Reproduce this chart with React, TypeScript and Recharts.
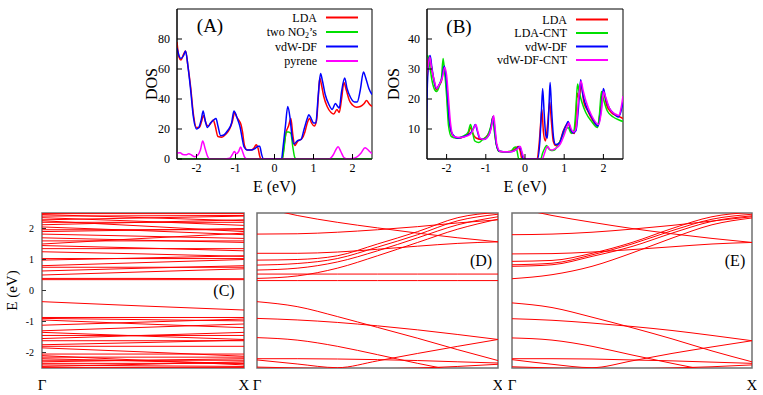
import { LineChart, Line, XAxis, YAxis, Legend, ReferenceArea } from 'recharts';
import type { ReactNode } from 'react';

type Pt = [number, number];

// (A) DOS, pyrene + two NO2 on graphene: [E (eV), DOS]
const ldaA: Pt[] = [
  [-2.5, 78], [-2.45, 68], [-2.4, 66], [-2.33, 70], [-2.28, 72], [-2.22, 62], [-2.15, 48], [-2.08, 30],
  [-2.0, 21], [-1.93, 21], [-1.87, 25], [-1.82, 29], [-1.76, 24], [-1.7, 22], [-1.63, 24], [-1.57, 26],
  [-1.52, 22], [-1.45, 15], [-1.35, 14.5], [-1.25, 16.5], [-1.15, 20], [-1.08, 25], [-1.02, 31], [-0.97, 28],
  [-0.92, 26], [-0.86, 23], [-0.82, 18], [-0.77, 9], [-0.7, 6], [-0.6, 6], [-0.52, 7.5], [-0.47, 9.5],
  [-0.42, 7], [-0.38, 2], [-0.35, 0], [0.2, 0], [0.24, 8], [0.3, 18], [0.36, 22], [0.42, 27], [0.47, 16],
  [0.52, 9], [0.6, 12], [0.7, 13.5], [0.78, 18], [0.84, 24], [0.9, 27], [0.95, 24], [1.02, 22], [1.08, 26],
  [1.12, 40], [1.16, 54], [1.2, 50], [1.26, 42], [1.35, 35], [1.45, 31], [1.52, 30], [1.6, 33], [1.66, 31],
  [1.72, 40], [1.78, 51], [1.84, 46], [1.92, 39], [2.0, 36], [2.1, 34.5], [2.2, 35], [2.3, 37], [2.36, 39],
  [2.42, 37], [2.5, 35],
];
const no2A: Pt[] = [
  [-2.5, 0], [0.2, 0], [0.24, 6], [0.3, 18], [0.36, 18], [0.42, 17], [0.47, 8], [0.52, 1], [0.56, 0], [2.5, 0],
];
const vdwA: Pt[] = [
  [-2.5, 74], [-2.45, 69], [-2.4, 67], [-2.33, 69], [-2.28, 72], [-2.22, 62], [-2.15, 46], [-2.08, 28],
  [-2.0, 20], [-1.94, 21], [-1.88, 26], [-1.83, 32], [-1.78, 26], [-1.72, 21], [-1.64, 24], [-1.56, 26],
  [-1.5, 27], [-1.45, 22], [-1.38, 15.5], [-1.3, 16], [-1.2, 19], [-1.1, 24], [-1.04, 32], [-0.98, 29],
  [-0.94, 26], [-0.88, 21], [-0.83, 14], [-0.78, 8], [-0.7, 6], [-0.6, 6], [-0.5, 7], [-0.42, 8.5],
  [-0.38, 8.5], [-0.33, 3], [-0.28, 0], [0.18, 0], [0.22, 8], [0.28, 22], [0.34, 35], [0.4, 27], [0.45, 15],
  [0.5, 10], [0.58, 12], [0.68, 13], [0.76, 20], [0.84, 27], [0.88, 29.5], [0.94, 27], [1.0, 24], [1.06, 24],
  [1.12, 42], [1.18, 57], [1.23, 52], [1.3, 43], [1.4, 36], [1.48, 33], [1.56, 37], [1.62, 35], [1.66, 34],
  [1.72, 45], [1.8, 54], [1.86, 47], [1.95, 41], [2.05, 38], [2.12, 38], [2.2, 46], [2.28, 58], [2.34, 54],
  [2.42, 47], [2.5, 43],
];
const pyreneA: Pt[] = [
  [-2.5, 4], [-2.42, 4.2], [-2.35, 3], [-2.27, 2.8], [-2.2, 3.5], [-2.12, 2.5], [-2.05, 1.5], [-1.97, 2.5],
  [-1.9, 6], [-1.84, 12], [-1.78, 7], [-1.72, 2], [-1.66, 0], [-1.3, 0], [-1.15, 0.5], [-1.08, 3], [-1.03, 5],
  [-0.98, 3.5], [-0.92, 5], [-0.87, 8], [-0.82, 5], [-0.76, 1], [-0.7, 0], [1.4, 0], [1.5, 2.5], [1.58, 6.5],
  [1.63, 8.2], [1.7, 5], [1.78, 1], [1.88, 0], [2.0, 0.3], [2.12, 1.5], [2.22, 4], [2.32, 7.5], [2.38, 6.5],
  [2.44, 5], [2.5, 3.5],
];

// (B) DOS with / without the nanotube
const ldaB: Pt[] = [
  [-2.5, 26], [-2.46, 33], [-2.43, 34], [-2.38, 30], [-2.32, 26], [-2.26, 23], [-2.2, 24.5], [-2.13, 26],
  [-2.08, 30.5], [-2.04, 29], [-2.0, 24], [-1.96, 15], [-1.9, 10], [-1.82, 7.5], [-1.7, 7], [-1.55, 7.5],
  [-1.45, 8.5], [-1.38, 10.5], [-1.33, 8.5], [-1.25, 7], [-1.1, 6.5], [-0.95, 8], [-0.87, 10.5], [-0.82, 14],
  [-0.78, 10], [-0.74, 5.5], [-0.66, 2.6], [-0.5, 2.4], [-0.35, 2.6], [-0.25, 3.5], [-0.17, 4.2], [-0.12, 2.5],
  [-0.08, 0], [0.3, 0], [0.36, 5], [0.4, 12], [0.43, 16.5], [0.47, 9], [0.52, 6], [0.58, 12], [0.63, 19],
  [0.67, 13], [0.72, 6], [0.78, 4.5], [0.88, 5.5], [0.98, 9.5], [1.06, 11.5], [1.1, 12], [1.18, 9], [1.26, 8.5],
  [1.3, 14], [1.33, 22], [1.38, 20], [1.43, 25], [1.5, 19], [1.6, 16], [1.72, 13], [1.85, 11], [1.91, 15],
  [1.96, 21], [2.0, 22.5], [2.08, 18], [2.2, 15.5], [2.32, 14.5], [2.42, 14], [2.5, 13.5],
];
const ldaCntB: Pt[] = [
  [-2.52, 34], [-2.48, 34.5], [-2.43, 31], [-2.37, 26], [-2.3, 23], [-2.25, 22.5], [-2.18, 24.5], [-2.13, 27],
  [-2.09, 33.5], [-2.05, 29], [-2.0, 21], [-1.95, 11], [-1.88, 7.5], [-1.75, 7], [-1.55, 7.8], [-1.45, 9],
  [-1.39, 11.5], [-1.34, 9], [-1.28, 6], [-1.18, 5.5], [-1.08, 6.5], [-0.95, 8], [-0.87, 11], [-0.82, 14],
  [-0.78, 9], [-0.74, 5.5], [-0.66, 2.5], [-0.45, 2.4], [-0.35, 2.7], [-0.28, 3.8], [-0.24, 4], [-0.2, 2.5],
  [-0.16, 0], [0.4, 0], [0.45, 2], [0.5, 3.5], [0.55, 4.5], [0.6, 3.5], [0.67, 2.8], [0.75, 3], [0.85, 4.8],
  [0.95, 7.5], [1.05, 10], [1.1, 10.5], [1.18, 8.5], [1.25, 9.5], [1.3, 17], [1.34, 25], [1.38, 22.5],
  [1.45, 19], [1.55, 15.5], [1.7, 12.5], [1.85, 10.5], [1.9, 15], [1.95, 22.5], [2.0, 20], [2.1, 16],
  [2.25, 14], [2.4, 13], [2.5, 12.5],
];
const vdwB: Pt[] = [
  [-2.52, 10], [-2.49, 25], [-2.45, 33], [-2.42, 34.5], [-2.38, 31], [-2.32, 26], [-2.26, 23.5], [-2.18, 25],
  [-2.12, 27], [-2.06, 31], [-2.02, 28], [-1.97, 20], [-1.93, 13], [-1.86, 8.5], [-1.72, 7], [-1.55, 7.5],
  [-1.4, 8.5], [-1.32, 10], [-1.27, 11.5], [-1.22, 9.5], [-1.16, 7], [-1.05, 6.5], [-0.92, 8], [-0.86, 11],
  [-0.81, 14.2], [-0.77, 10], [-0.73, 5], [-0.65, 2.6], [-0.45, 2.4], [-0.3, 2.6], [-0.2, 3.5], [-0.14, 4.2],
  [-0.09, 2.5], [-0.04, 0], [0.32, 0], [0.38, 6], [0.42, 16], [0.45, 23.5], [0.49, 15], [0.53, 8], [0.57, 7],
  [0.61, 17], [0.64, 25.5], [0.68, 16], [0.73, 7], [0.78, 4.8], [0.88, 5.3], [0.98, 9.2], [1.06, 11.5],
  [1.1, 12.5], [1.16, 10], [1.22, 8.7], [1.3, 9.5], [1.36, 16.5], [1.42, 26.4], [1.47, 22], [1.55, 18],
  [1.7, 14], [1.86, 11], [1.94, 16], [2.0, 23.5], [2.06, 20], [2.15, 17], [2.28, 15], [2.38, 14], [2.44, 15.5],
  [2.5, 19],
];
const vdwCntB: Pt[] = [
  [-2.52, 27], [-2.47, 31], [-2.43, 34], [-2.38, 30], [-2.32, 26.5], [-2.25, 23.5], [-2.18, 25], [-2.1, 27.5],
  [-2.05, 30.5], [-2.0, 28], [-1.95, 20], [-1.9, 12], [-1.82, 7.5], [-1.65, 7.2], [-1.45, 7.8], [-1.35, 9],
  [-1.3, 10.5], [-1.25, 11.4], [-1.2, 9], [-1.15, 7], [-1.05, 6.5], [-0.92, 8], [-0.85, 11], [-0.8, 14.5],
  [-0.76, 10], [-0.72, 5], [-0.63, 2.5], [-0.45, 2.4], [-0.3, 2.6], [-0.18, 3.5], [-0.12, 4.2], [-0.07, 2],
  [0.0, 0], [0.44, 0], [0.5, 2], [0.55, 3.8], [0.58, 4.2], [0.63, 3.2], [0.7, 3], [0.78, 3.5], [0.9, 5],
  [1.0, 8], [1.08, 11], [1.12, 12], [1.18, 10], [1.24, 9], [1.3, 10], [1.36, 19], [1.43, 26], [1.48, 23],
  [1.55, 19.5], [1.7, 14.5], [1.88, 11.5], [1.95, 16], [2.0, 22.5], [2.05, 21], [2.15, 17], [2.3, 15],
  [2.4, 14.5], [2.45, 17], [2.5, 21],
];

const eTicks = [-2, -1, 0, 1, 2];
const dosTicksA = [0, 20, 40, 60, 80];
const dosTicksB = [10, 20, 30, 40];

// band structures (C)-(E): E (eV) of each band sampled along Γ -> X
const kC = [0, 0.5, 1];
const bandsC: number[][] = [
  [0.35, 0.35, 0.35], [0.39, 0.39, 0.38], [0.5, 0.6, 0.7], [0.63, 0.72, 0.8], [0.75, 0.75, 0.75],
  [0.8, 0.9, 1.0], [0.98, 1.05, 1.12], [1.03, 1.03, 1.03], [1.25, 1.18, 1.1], [1.35, 1.35, 1.35],
  [1.45, 1.37, 1.28], [1.5, 1.68, 1.85], [1.6, 1.6, 1.6], [1.7, 1.62, 1.55], [1.82, 1.75, 1.68],
  [1.9, 1.95, 2.0], [1.96, 1.96, 1.96], [2.05, 1.93, 1.8], [2.12, 2.2, 2.28], [2.2, 2.2, 2.2],
  [2.25, 2.08, 1.9], [2.28, 2.34, 2.4], [2.35, 2.23, 2.1], [2.4, 2.41, 2.42], [2.45, 2.35, 2.25],
  [2.48, 2.48, 2.48],
  [-0.36, -0.5, -0.63], [-0.87, -0.87, -0.87], [-0.9, -0.94, -0.98], [-0.95, -1.08, -1.2],
  [-1.12, -1.02, -0.92], [-1.3, -1.19, -1.08], [-1.35, -1.47, -1.58], [-1.45, -1.45, -1.45],
  [-1.55, -1.45, -1.35], [-1.62, -1.62, -1.62], [-1.75, -1.68, -1.6], [-1.8, -1.8, -1.8],
  [-1.85, -1.98, -2.12], [-2.05, -2.05, -2.05], [-2.1, -2.25, -2.4], [-2.15, -2.15, -2.15],
  [-2.2, -2.28, -2.35], [-2.25, -2.25, -2.25], [-2.3, -2.25, -2.2], [-2.35, -2.35, -2.35],
  [-2.4, -2.43, -2.45], [-2.45, -2.38, -2.3], [-2.48, -2.48, -2.48],
];
const kDE = [0, 1 / 6, 1 / 3, 0.5, 2 / 3, 5 / 6, 1];
const bandsD: number[][] = [
  [0.32, 0.32, 0.32, 0.32, 0.32, 0.32, 0.32],
  [0.53, 0.53, 0.53, 0.53, 0.53, 0.53, 0.53],
  [0.39, 0.47, 0.72, 1.12, 1.55, 1.98, 2.3],
  [0.66, 0.72, 0.92, 1.28, 1.7, 2.12, 2.38],
  [0.82, 0.87, 1.03, 1.4, 1.8, 2.25, 2.46],
  [0.98, 1.0, 1.12, 1.5, 1.9, 2.35, 2.52],
  [1.2, 1.2, 1.24, 1.33, 1.43, 1.52, 1.57],
  [2.72, 2.42, 2.2, 2.02, 1.85, 1.7, 1.57],
  [1.82, 1.83, 1.88, 1.96, 2.06, 2.18, 2.28],
  [-0.36, -0.52, -0.84, -1.19, -1.54, -1.91, -2.26],
  [-0.9, -0.95, -1.03, -1.14, -1.27, -1.42, -1.58],
  [-1.52, -1.6, -1.8, -2.07, -2.35, -2.6, -2.8],
  [-2.24, -2.37, -2.49, -2.27, -2.03, -1.8, -1.58],
  [-2.2, -2.2, -2.21, -2.23, -2.26, -2.3, -2.34],
  [-2.47, -2.5, -2.52, -2.52, -2.5, -2.45, -2.38],
];
const bandsE: number[][] = [
  [0.38, 0.51, 0.78, 1.21, 1.69, 2.12, 2.34],
  [0.78, 0.83, 1.1, 1.42, 1.85, 2.23, 2.41],
  [0.83, 0.88, 1.15, 1.5, 1.93, 2.3, 2.46],
  [0.94, 0.97, 1.2, 1.55, 2.0, 2.38, 2.52],
  [1.18, 1.19, 1.24, 1.32, 1.41, 1.5, 1.55],
  [2.7, 2.42, 2.2, 2.0, 1.83, 1.68, 1.55],
  [1.8, 1.82, 1.88, 1.98, 2.1, 2.24, 2.38],
  [-0.4, -0.55, -0.86, -1.2, -1.56, -1.95, -2.3],
  [-0.91, -0.96, -1.05, -1.16, -1.29, -1.45, -1.62],
  [-1.53, -1.6, -1.8, -2.08, -2.35, -2.6, -2.8],
  [-2.23, -2.38, -2.49, -2.27, -2.03, -1.82, -1.62],
  [-2.2, -2.2, -2.21, -2.24, -2.27, -2.31, -2.35],
  [-2.46, -2.5, -2.52, -2.52, -2.5, -2.46, -2.4],
];
const kTicks = [0, 1];
const bandTicks = [-2, -1, 0, 1, 2];

const FONT = '"Liberation Serif", "DejaVu Serif", serif';

interface Series { label: ReactNode; color: string; pts: Pt[] }

const seriesA: Series[] = [
  { label: 'LDA', color: '#ff0000', pts: ldaA },
  { label: <>two NO<tspan dy={3} fontSize={8}>2</tspan><tspan dy={-3}>’s</tspan></>, color: '#00e000', pts: no2A },
  { label: 'vdW-DF', color: '#0000ff', pts: vdwA },
  { label: 'pyrene', color: '#ff00ff', pts: pyreneA },
];
const seriesB: Series[] = [
  { label: 'LDA', color: '#ff0000', pts: ldaB },
  { label: 'LDA-CNT', color: '#00e000', pts: ldaCntB },
  { label: 'vdW-DF', color: '#0000ff', pts: vdwB },
  { label: 'vdW-DF-CNT', color: '#ff00ff', pts: vdwCntB },
];

const toRows = (pts: Pt[]) => pts.map(([e, dos]) => ({ e, dos }));

const bandRows = (k: number[], bands: number[][]) =>
  k.map((kk, i) => {
    const row: Record<string, number> = { k: kk };
    bands.forEach((b, j) => { row['b' + j] = b[i]; });
    return row;
  });

const KeyBox = ({ items, textX, rows }: { items: Series[]; textX: number; rows: number[] }) => (
  <svg width={140} height={72}>
    {items.map((s, i) => (
      <g key={i}>
        <text x={textX} y={rows[i]} textAnchor="end" dominantBaseline="central" fontSize={12} fontFamily={FONT} fill="#000">
          {s.label}
        </text>
        <line x1={textX + 9} x2={textX + 41} y1={rows[i]} y2={rows[i]} stroke={s.color} strokeWidth={2} />
      </g>
    ))}
  </svg>
);

interface DosProps {
  left: number; yWidth: number; right: number; yMax: number; yTicks: number[];
  series: Series[]; keyLeft: number; keyTextX: number; keyRows: number[]; titleDx: number;
}

const DosPanel = ({ left, yWidth, right, yMax, yTicks, series, keyLeft, keyTextX, keyRows, titleDx }: DosProps) => (
  <div style={{ position: 'absolute', left, top: 0 }}>
    <LineChart width={250} height={200} margin={{ top: 9, right, left: 0, bottom: 0 }} style={{ fontFamily: FONT }}>
      <XAxis
        dataKey="e" type="number" domain={[-2.5, 2.5]} ticks={eTicks} allowDataOverflow interval={0}
        height={41} stroke="#000" tickSize={-5} tickMargin={9} tick={{ fill: '#000', fontSize: 12, fontFamily: FONT }}
        label={{ value: 'E (eV)', position: 'center', dy: 7, fontSize: 16, fill: '#000', fontFamily: FONT }}
      />
      <YAxis
        type="number" domain={[0, yMax]} ticks={yTicks} allowDataOverflow interval={0}
        width={yWidth} stroke="#000" tickSize={-5} tickMargin={12} tick={{ fill: '#000', fontSize: 12, fontFamily: FONT }}
        label={{ value: 'DOS', angle: -90, position: 'center', dx: titleDx, fontSize: 16, fill: '#000', fontFamily: FONT }}
      />
      <ReferenceArea x1={-2.5} x2={2.5} y1={0} y2={yMax} fill="none" stroke="#000" strokeWidth={1} ifOverflow="visible" />
      {series.map((s, i) => (
        <Line
          key={i} data={toRows(s.pts)} dataKey="dos" type="monotone"
          stroke={s.color} strokeWidth={1.5} dot={false} activeDot={false} isAnimationActive={false}
        />
      ))}
      <Legend
        layout="horizontal" verticalAlign="middle" align="center"
        wrapperStyle={{ left: keyLeft, top: 8, width: 140, height: 72 }}
        content={() => <KeyBox items={series} textX={keyTextX} rows={keyRows} />}
      />
    </LineChart>
  </div>
);

interface BandProps { left: number; marginLeft: number; right: number; yWidth: number; k: number[]; bands: number[][] }

const BandPanel = ({ left, marginLeft, right, yWidth, k, bands }: BandProps) => (
  <div style={{ position: 'absolute', left, top: 200 }}>
    <LineChart width={250} height={195} data={bandRows(k, bands)} margin={{ top: 13, right, left: marginLeft, bottom: 0 }} style={{ fontFamily: FONT }}>
      <XAxis
        dataKey="k" type="number" domain={[0, 1]} ticks={kTicks} interval={0} allowDataOverflow
        tickFormatter={(v: number) => (v === 0 ? 'Γ' : 'X')} tickLine={false} axisLine={false} height={27}
        tickMargin={5} tick={{ fill: '#000', fontSize: 15, fontFamily: FONT }}
      />
      <YAxis
        type="number" domain={[-2.5, 2.5]} ticks={bandTicks} interval={0} allowDataOverflow width={yWidth}
        axisLine={false} stroke="#333" tickSize={yWidth ? -4 : 0} tickMargin={12}
        tick={yWidth ? { fill: '#000', fontSize: 10, fontFamily: FONT } : false} tickLine={yWidth ? { stroke: '#333' } : false}
        label={yWidth ? { value: 'E (eV)', angle: -90, position: 'center', dx: -9, fontSize: 15, fill: '#000', fontFamily: FONT } : undefined}
      />
      {bands.map((_, j) => (
        <Line
          key={j} dataKey={'b' + j} type="monotone" stroke="#ff0000" strokeWidth={1}
          dot={false} activeDot={false} isAnimationActive={false}
        />
      ))}
      <ReferenceArea x1={0} x2={1} y1={-2.5} y2={2.5} fill="none" stroke="#707070" strokeWidth={1.5} ifOverflow="visible" />
    </LineChart>
  </div>
);

const Tag = ({ x, y, size, text }: { x: number; y: number; size: number; text: string }) => (
  <div style={{ position: 'absolute', left: x, top: y, transform: 'translate(-50%, -50%)', fontSize: size, lineHeight: 1, whiteSpace: 'nowrap' }}>
    {text}
  </div>
);

export default function App() {
  return (
    <div style={{ position: 'absolute', left: 0, top: 0, width: 763, height: 395, background: '#fff', fontFamily: FONT }}>
      <DosPanel
        left={130} yWidth={47} right={8} yMax={100} yTicks={dosTicksA} series={seriesA}
        keyLeft={100} keyTextX={87} keyRows={[9.5, 24, 38.5, 53]} titleDx={-2}
      />
      <DosPanel
        left={375} yWidth={52} right={2} yMax={50} yTicks={dosTicksB} series={seriesB}
        keyLeft={105} keyTextX={87} keyRows={[11.5, 25, 38.5, 52]} titleDx={-8}
      />
      <BandPanel left={0} marginLeft={0} right={6} yWidth={42} k={kC} bands={bandsC} />
      <BandPanel left={252} marginLeft={5} right={4} yWidth={0} k={kDE} bands={bandsD} />
      <BandPanel left={507} marginLeft={5} right={5} yWidth={0} k={kDE} bands={bandsE} />
      <Tag x={210} y={25} size={19} text="(A)" />
      <Tag x={459} y={26} size={19} text="(B)" />
      <Tag x={224} y={291} size={16} text="(C)" />
      <Tag x={481} y={261} size={16} text="(D)" />
      <Tag x={735} y={261} size={16} text="(E)" />
    </div>
  );
}
